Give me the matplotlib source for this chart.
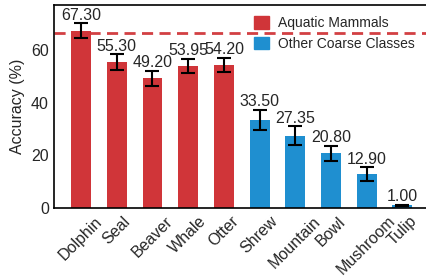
import matplotlib
matplotlib.use('Agg')
import matplotlib.pyplot as plt
from matplotlib.patches import Patch
import numpy as np

# Dados do gráfico
classes = ['Dolphin', 'Seal', 'Beaver', 'Whale', 'Otter',
           'Shrew', 'Mountain', 'Bowl', 'Mushroom', 'Tulip']
accuracy = [67.30, 55.30, 49.20, 53.95, 54.20, 33.50, 27.35, 20.80, 12.90, 1.00]
errors = [2.7, 3.0, 2.8, 2.7, 2.7, 3.8, 3.6, 2.9, 2.5, 0.3]
groups = ['aquatic'] * 5 + ['other'] * 5
baseline = 66.3

red = '#d03539'
blue = '#1f8fd0'
txt = '#262626'

plt.rcParams['font.family'] = ['Liberation Sans', 'DejaVu Sans']
plt.rcParams['text.color'] = txt
plt.rcParams['axes.labelcolor'] = txt
plt.rcParams['xtick.color'] = txt
plt.rcParams['ytick.color'] = txt

fig = plt.figure(figsize=(4.26, 2.77), dpi=100)
ax = fig.add_axes([0.1275, 0.249, 0.880, 0.733])

x = np.arange(len(classes))
colors = [red if g == 'aquatic' else blue for g in groups]

ax.axhline(baseline, color=red, lw=2.0, ls=(0, (4, 2.3)), zorder=1, alpha=0.95)
ax.bar(x, accuracy, width=0.56, color=colors, zorder=2)
ax.errorbar(x, accuracy, yerr=errors, fmt='none', ecolor='black',
            elinewidth=1.5, capsize=4.8, capthick=1.5, zorder=3)

# Rótulos de valor acima das barras
for xi, v, e in zip(x, accuracy, errors):
    ax.annotate(f'{v:.2f}', (xi, v + e), xytext=(0, 0.5), textcoords='offset points',
                ha='center', va='bottom', fontsize=11.5)

ax.set_xlim(-0.75, 9.75)
ax.set_ylim(0, 77)
ax.set_yticks([0, 20, 40, 60])
ax.set_xticks(x)
ax.set_xticklabels(classes, rotation=45, fontsize=11.5)
ax.tick_params(axis='y', labelsize=11.5)
ax.tick_params(length=0, pad=4)
ax.set_ylabel('Accuracy (%)', fontsize=11.5, labelpad=4)

for s in ax.spines.values():
    s.set_linewidth(1.2)
    s.set_color('black')

handles = [Patch(color=red, label='Aquatic Mammals'),
           Patch(color=blue, label='Other Coarse Classes')]
ax.legend(handles=handles, loc='upper right', frameon=False, fontsize=10,
          handlelength=1.1, handleheight=1.0, handletextpad=0.65,
          labelspacing=0.45, bbox_to_anchor=(0.995, 1.005))

fig.savefig('out.png', dpi=100)
